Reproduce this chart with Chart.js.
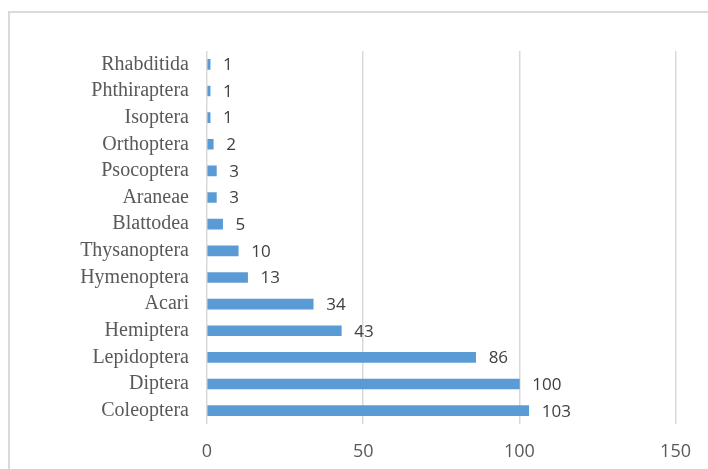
<!DOCTYPE html>
<html>
<head>
<meta charset="utf-8">
<script src="https://cdn.jsdelivr.net/npm/chart.js@4.4.1/dist/chart.umd.min.js"></script>
<style>
  html, body { margin: 0; padding: 0; background: #fff; overflow: hidden; }
  #wrap { position: relative; width: 708px; height: 469px; overflow: hidden; }
  #frame { position: absolute; left: 8px; top: 11px; width: 800px; height: 600px; border: 2px solid #D9D9D9; box-sizing: border-box; }
  #c { position: absolute; left: 0; top: 0; }
</style>
</head>
<body>
<div id="wrap">
  <div id="frame"></div>
  <canvas id="c" width="708" height="469"></canvas>
</div>
<script>
const categories = ["Rhabditida","Phthiraptera","Isoptera","Orthoptera","Psocoptera","Araneae","Blattodea","Thysanoptera","Hymenoptera","Acari","Hemiptera","Lepidoptera","Diptera","Coleoptera"];
const counts = [1,1,1,2,3,3,5,10,13,34,43,86,100,103];
const xTicks = [0,50,100,150];

const valueLabels = {
  id: 'valueLabels',
  afterDatasetsDraw(chart) {
    const ctx = chart.ctx;
    const meta = chart.getDatasetMeta(0);
    ctx.save();
    ctx.font = '17px "Open Sans", "Liberation Sans", sans-serif';
    ctx.fillStyle = '#404040';
    ctx.textAlign = 'left';
    ctx.textBaseline = 'middle';
    meta.data.forEach((bar, i) => {
      ctx.fillText(String(counts[i]), bar.x + 13, bar.y + 1);
    });
    ctx.restore();
  }
};

new Chart(document.getElementById('c'), {
  type: 'bar',
  data: {
    labels: categories,
    datasets: [{
      data: counts,
      backgroundColor: '#5B9BD5',
      borderWidth: 0,
      barThickness: 10
    }]
  },
  options: {
    indexAxis: 'y',
    responsive: false,
    animation: false,
    layout: { padding: { top: 51, right: 29, left: 0, bottom: 0 } },
    plugins: { legend: { display: false }, tooltip: { enabled: false } },
    scales: {
      x: {
        min: 0, max: 150,
        afterBuildTicks(scale) { scale.ticks = xTicks.map(v => ({ value: v })); },
        afterFit(scale) { scale.height = 45; },
        grid: { color: '#D9D9D9', lineWidth: 1.5, drawTicks: false },
        border: { display: false },
        ticks: { padding: 17, color: '#595959', font: { family: '"Open Sans", "Liberation Sans", sans-serif', size: 18 } }
      },
      y: {
        afterFit(scale) { scale.width = 207; },
        grid: { display: false, drawTicks: false },
        border: { display: false },
        ticks: { autoSkip: false, padding: 18, color: '#595959', font: { family: '"Liberation Serif", "Times New Roman", serif', size: 20 } }
      }
    }
  },
  plugins: [valueLabels]
});
</script>
</body>
</html>
